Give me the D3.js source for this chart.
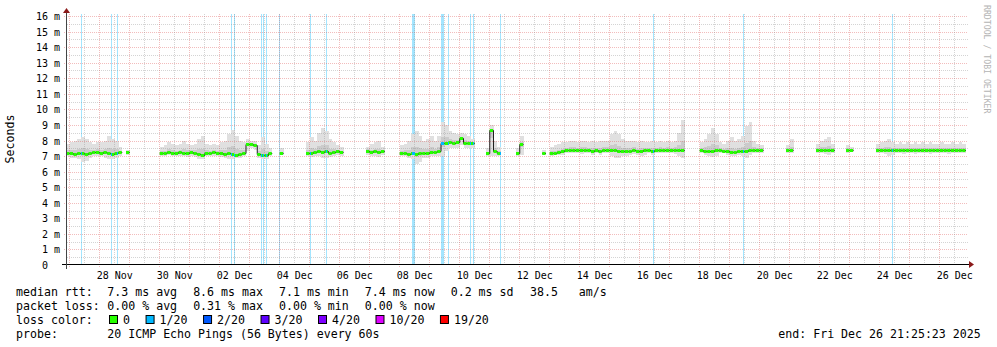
<!DOCTYPE html>
<html>
<head>
<meta charset="utf-8">
<script src="https://cdn.jsdelivr.net/npm/d3@7"></script>
<style>
  body { margin: 0; background: #ffffff; }
  svg { display: block; font-family: "DejaVu Sans Mono", monospace; }
  text { white-space: pre; }
</style>
</head>
<body>
<svg id="chart"></svg>
<script>
// time window of the graph (30 days), samples every 3 hours
const startTime = new Date(2025, 10, 26, 21, 25, 23);
const endTime = new Date(2025, 11, 26, 21, 25, 23);
const stepHours = 3;

// median rtt in ms, one row per day (8 samples)
const medianMs = [
  7.2, 7.2, 7.15, 7.2, 7.2, 7.15, 7.2, 7.25,
  7.25, 7.2, 7.25, 7.2, 7.15, 7.2, 7.25, null,
  7.25, null, null, null, null, null, null, null,
  null, 7.2, 7.2, 7.25, 7.2, 7.2, 7.25, 7.2,
  7.2, 7.25, 7.2, 7.15, 7.1, 7.2, 7.2, 7.25,
  7.2, 7.2, 7.15, 7.2, 7.15, 7.1, 7.15, 7.2,
  7.75, 7.75, 7.7, 7.15, 7.1, 7.1, 7.2, null,
  null, 7.2, null, null, null, null, null, null,
  7.2, 7.2, 7.25, 7.3, 7.25, 7.3, 7.2, 7.25,
  7.3, 7.25, null, null, null, null, null, null,
  7.35, 7.25, 7.3, 7.25, 7.3, null, null, null,
  null, 7.2, 7.2, 7.15, 7.2, 7.15, 7.2, 7.2,
  7.2, 7.25, 7.25, 7.3, 7.85, 7.85, 7.9, 7.85,
  7.9, 8.15, 7.85, 7.85, 7.85, null, null, null,
  7.2, 8.65, 7.35, 7.2, null, null, null, null,
  7.2, 7.75, null, null, null, null, null, 7.2,
  null, 7.2, 7.2, 7.25, 7.3, 7.4, 7.4, 7.4,
  7.4, 7.4, 7.4, 7.4, 7.35, 7.4, 7.3, 7.4,
  7.4, 7.4, 7.4, 7.35, 7.3, 7.3, 7.35, 7.4,
  7.3, 7.35, 7.4, 7.4, 7.3, 7.4, 7.4, 7.4,
  7.4, 7.4, 7.4, 7.4, 7.4, null, null, null,
  null, 7.4, 7.35, 7.3, 7.35, 7.4, 7.4, 7.35,
  7.3, 7.25, 7.25, 7.3, 7.3, 7.35, 7.4, 7.4,
  7.4, 7.4, null, null, null, null, null, null,
  7.4, 7.4, null, null, null, null, null, null,
  7.4, 7.4, 7.4, 7.4, 7.4, null, null, null,
  7.4, 7.4, null, null, null, null, null, null,
  7.4, 7.4, 7.4, 7.4, 7.4, 7.4, 7.4, 7.4,
  7.4, 7.4, 7.4, 7.4, 7.4, 7.4, 7.4, 7.4,
  7.4, 7.4, 7.4, 7.4, 7.4, 7.4, 7.4, 7.4
];

// smoke: lowest and highest ping of each sample, ms
const smokeLowMs = [
  7.0, 6.9, 6.9, 6.8, 6.6, 6.7, 6.9, 7.0,
  7.0, 7.0, 6.9, 6.8, 6.8, 6.9, 7.0, null,
  7.1, null, null, null, null, null, null, null,
  null, 7.0, 7.0, 7.05, 7.0, 7.0, 7.0, 7.0,
  6.95, 7.0, 6.95, 6.8, 6.8, 7.0, 7.0, 7.0,
  7.0, 6.95, 6.9, 6.8, 6.8, 6.85, 6.9, 7.0,
  7.3, 7.5, 7.4, 6.9, 6.8, 6.8, 7.0, null,
  null, 7.05, null, null, null, null, null, null,
  7.0, 6.95, 7.0, 7.0, 6.9, 6.9, 6.95, 7.0,
  7.05, 7.0, null, null, null, null, null, null,
  7.1, 7.0, 7.0, 6.95, 7.1, null, null, null,
  null, 7.0, 7.0, 6.9, 6.8, 6.5, 6.6, 6.85,
  6.9, 7.0, 7.0, 7.0, 7.0, 7.3, 7.5, 7.5,
  7.55, 7.7, 7.5, 7.5, 7.55, null, null, null,
  7.0, 7.0, 7.0, 7.0, null, null, null, null,
  7.0, 7.1, null, null, null, null, null, 7.1,
  null, 7.0, 7.05, 7.1, 7.1, 7.2, 7.2, 7.2,
  7.2, 7.15, 7.2, 7.2, 7.1, 7.2, 7.1, 7.2,
  7.2, 7.0, 6.9, 6.9, 7.0, 7.0, 7.1, 7.15,
  7.05, 7.0, 7.1, 7.2, 7.1, 7.2, 7.2, 7.2,
  7.2, 7.2, 7.15, 7.0, 6.9, null, null, null,
  null, 7.2, 7.1, 7.0, 6.95, 7.0, 7.2, 7.2,
  7.1, 7.0, 7.0, 7.1, 7.0, 6.9, 7.1, 7.2,
  7.2, 7.2, null, null, null, null, null, null,
  7.2, 7.2, null, null, null, null, null, null,
  7.2, 7.2, 7.15, 7.1, 7.2, null, null, null,
  7.2, 7.25, null, null, null, null, null, null,
  7.2, 7.2, 7.15, 7.0, 7.1, 7.2, 7.2, 7.15,
  7.2, 7.2, 7.15, 7.2, 7.2, 7.2, 7.15, 7.2,
  7.2, 7.2, 7.2, 7.15, 7.2, 7.2, 7.2, 7.2
];

const smokeHighMs = [
  7.8, 7.9, 8.0, 8.1, 8.2, 8.1, 7.9, 7.8,
  7.9, 7.9, 8.0, 8.3, 8.1, 8.0, 7.6, null,
  7.4, null, null, null, null, null, null, null,
  null, 7.6, 7.7, 7.9, 7.8, 7.7, 7.8, 8.0,
  7.8, 7.7, 7.8, 8.1, 8.3, 7.8, 7.7, 7.8,
  7.7, 7.9, 8.0, 8.4, 8.7, 8.3, 8.0, 7.9,
  8.1, 8.0, 8.0, 7.7, 8.2, 7.8, 7.5, null,
  null, 7.5, null, null, null, null, null, null,
  7.9, 8.2, 8.0, 8.5, 8.8, 8.6, 8.1, 7.9,
  7.7, 7.6, null, null, null, null, null, null,
  7.6, 7.8, 7.9, 8.0, 7.6, null, null, null,
  null, 7.7, 7.8, 8.0, 8.4, 8.6, 8.3, 8.0,
  8.1, 8.3, 8.0, 8.3, 9.2, 9.0, 8.6, 8.5,
  8.4, 8.5, 8.4, 8.3, 8.1, null, null, null,
  7.5, 9.0, 8.0, 7.6, null, null, null, null,
  7.5, 8.3, null, null, null, null, null, 7.4,
  null, 7.6, 7.7, 7.8, 7.9, 7.9, 8.0, 8.0,
  7.9, 8.0, 8.0, 7.9, 8.0, 7.9, 8.0, 8.0,
  8.0, 8.4, 8.6, 8.4, 8.1, 8.0, 8.0, 8.0,
  7.9, 8.0, 7.9, 7.9, 8.0, 7.9, 8.0, 7.9,
  8.0, 7.9, 8.0, 8.5, 9.3, null, null, null,
  null, 7.9, 8.1, 8.4, 8.8, 8.4, 7.9, 7.8,
  8.0, 8.2, 8.0, 8.1, 8.3, 8.9, 9.2, 8.0,
  7.8, 7.7, null, null, null, null, null, null,
  7.7, 8.1, null, null, null, null, null, null,
  7.8, 8.0, 8.1, 8.2, 7.8, null, null, null,
  7.7, 7.6, null, null, null, null, null, null,
  7.8, 7.9, 8.0, 8.1, 7.9, 7.8, 7.9, 7.8,
  7.9, 7.8, 7.9, 7.8, 7.9, 7.8, 7.9, 7.8,
  7.8, 7.9, 7.8, 7.8, 7.9, 7.8, 7.9, 7.8
];

// minutes with 1/20 loss, as hours after startTime
const lossHours = [12, 36, 40.8, 132, 135.2, 156, 157.6, 160, 170.4, 195.2, 208,
  276.8, 277.6, 278.4, 300, 300.8, 301.6, 305.6, 323.2, 325.6, 347.2, 469.6, 541.6, 660.8];

// x axis labels (centred on noon of each day)
const dayLabels = ["2025-11-28", "2025-11-30", "2025-12-02", "2025-12-04", "2025-12-06",
  "2025-12-08", "2025-12-10", "2025-12-12", "2025-12-14", "2025-12-16", "2025-12-18",
  "2025-12-20", "2025-12-22", "2025-12-24", "2025-12-26"];

// legend
const rttValues = [7.3, 8.6, 7.1, 7.4, 0.2];
const rttNames = ["avg", "max", "min", "now", "sd"];
const rttPerStd = "38.5";
const lossValues = [0.00, 0.31, 0.00, 0.00];
const lossNames = ["avg", "max", "min", "now"];
const lossColorLabels = ["0", "1/20", "2/20", "3/20", "4/20", "10/20", "19/20"];
const lossColors = ["#26ff00", "#00b8ff", "#0059ff", "#5e00ff", "#7e00ff", "#dd00ff", "#ff0000"];
const probeText = "20 ICMP Echo Pings (56 Bytes) every 60s";
const endText = "end: Fri Dec 26 21:25:23 2025";

class SmokeChart {
    constructor(_config) {
        this.config = {
            parentElement: _config.parentElement,
            containerWidth: _config.containerWidth || 997,
            containerHeight: _config.containerHeight || 347,
            plot: {left: 66, right: 966, top: 16, bottom: 265},
            gridColor: "rgba(143,143,143,0.38)",
            mgridColor: "rgba(222,80,80,0.38)",
            arrowColor: "#8b1a1a"
        };
        this.initVis();
    }

    initVis() {
        let vis = this;

        vis.svg = d3.select(vis.config.parentElement)
            .attr('width', vis.config.containerWidth)
            .attr('height', vis.config.containerHeight);

        vis.svg.append('rect')
            .attr('width', vis.config.containerWidth)
            .attr('height', vis.config.containerHeight)
            .attr('fill', '#ffffff');

        vis.xScale = d3.scaleTime()
            .domain([startTime, endTime])
            .range([vis.config.plot.left, vis.config.plot.right]);

        vis.yScale = d3.scaleLinear()
            .domain([0, 16])
            .range([vis.config.plot.bottom, vis.config.plot.top]);

        // build sample objects
        vis.samples = medianMs.map((m, i) => ({
            t0: d3.timeHour.offset(startTime, i * stepHours),
            t1: d3.timeHour.offset(startTime, (i + 1) * stepHours),
            med: m,
            lo: smokeLowMs[i],
            hi: smokeHighMs[i]
        }));

        vis.renderVis();
    }

    renderVis() {
        let vis = this;
        let p = vis.config.plot;
        let px = v => Math.round(v) + 0.5;

        // loss background bars
        vis.svg.append('g').selectAll('rect')
            .data(lossHours)
            .join('rect')
                .attr('x', h => Math.floor(vis.xScale(new Date(+startTime + h * 3600000))))
                .attr('y', p.top - 2)
                .attr('width', 1)
                .attr('height', p.bottom - p.top + 1)
                .attr('fill', '#00b8ff')
                .attr('opacity', 0.36);

        // smoke
        let valid = vis.samples.filter(d => d.med != null);
        vis.svg.append('g').attr('shape-rendering', 'crispEdges').selectAll('rect')
            .data(valid)
            .join('rect')
                .attr('x', d => vis.xScale(d.t0))
                .attr('width', d => vis.xScale(d.t1) - vis.xScale(d.t0))
                .attr('y', d => vis.yScale(d.hi))
                .attr('height', d => vis.yScale(d.lo) - vis.yScale(d.hi))
                .attr('fill', '#e0e0e0');

        vis.svg.append('g').attr('shape-rendering', 'crispEdges').selectAll('rect')
            .data(valid)
            .join('rect')
                .attr('x', d => vis.xScale(d.t0))
                .attr('width', d => vis.xScale(d.t1) - vis.xScale(d.t0))
                .attr('y', d => vis.yScale(d.med + (d.hi - d.med) * 0.3))
                .attr('height', d => vis.yScale(d.med - (d.med - d.lo) * 0.3) - vis.yScale(d.med + (d.hi - d.med) * 0.3))
                .attr('fill', '#cbcbcb');

        // grid
        let grid = vis.svg.append('g')
            .attr('shape-rendering', 'crispEdges')
            .attr('stroke-dasharray', '1,1');

        let minorY = vis.yScale.ticks(32).filter(v => v % 1 !== 0);
        let majorY = vis.yScale.ticks(16);
        grid.selectAll('.gy')
            .data(minorY)
            .join('line')
                .attr('class', 'gy')
                .attr('x1', p.left + 1).attr('x2', p.right + 2)
                .attr('y1', d => px(vis.yScale(d))).attr('y2', d => px(vis.yScale(d)))
                .attr('stroke', vis.config.gridColor);
        grid.selectAll('.my')
            .data(majorY.filter(v => v > 0))
            .join('line')
                .attr('class', 'my')
                .attr('x1', p.left - 2).attr('x2', p.right + 2)
                .attr('y1', d => px(vis.yScale(d))).attr('y2', d => px(vis.yScale(d)))
                .attr('stroke', vis.config.mgridColor);

        let noons = d3.timeHour.every(12).range(startTime, endTime).filter(d => d.getHours() === 12);
        let midnights = d3.timeDay.range(startTime, endTime);
        grid.selectAll('.gx')
            .data(noons)
            .join('line')
                .attr('class', 'gx')
                .attr('x1', d => px(vis.xScale(d))).attr('x2', d => px(vis.xScale(d)))
                .attr('y1', p.top - 2).attr('y2', p.bottom)
                .attr('stroke', vis.config.gridColor);
        grid.selectAll('.mx')
            .data(midnights)
            .join('line')
                .attr('class', 'mx')
                .attr('x1', d => px(vis.xScale(d))).attr('x2', d => px(vis.xScale(d)))
                .attr('y1', p.top - 2).attr('y2', p.bottom + 3)
                .attr('stroke', vis.config.mgridColor);

        // median: thin dark step line, then loss-coloured segments
        let pts = [];
        vis.samples.forEach(d => {
            if (d.med == null) { pts.push({v: null}); return; }
            pts.push({t: d.t0, v: d.med});
            pts.push({t: d.t1, v: d.med});
        });
        let line = d3.line()
            .defined(d => d.v != null)
            .x(d => vis.xScale(d.t))
            .y(d => px(vis.yScale(d.v)));
        vis.svg.append('path')
            .attr('d', line(pts))
            .attr('fill', 'none')
            .attr('stroke', '#202020')
            .attr('stroke-width', 1);

        vis.svg.append('g').selectAll('line')
            .data(valid)
            .join('line')
                .attr('x1', d => vis.xScale(d.t0))
                .attr('x2', d => vis.xScale(d.t1) - 0.5)
                .attr('y1', d => px(vis.yScale(d.med)))
                .attr('y2', d => px(vis.yScale(d.med)))
                .attr('stroke', lossColors[0])
                .attr('stroke-width', 3);

        // loss marks on the median
        let lossMarks = lossHours.map(h => {
            let i = Math.floor(h / stepHours);
            return {t: new Date(+startTime + h * 3600000), v: medianMs[i]};
        }).filter(d => d.v != null);
        vis.svg.append('g').selectAll('rect')
            .data(lossMarks)
            .join('rect')
                .attr('x', d => Math.floor(vis.xScale(d.t)))
                .attr('y', d => px(vis.yScale(d.v)) - 1.5)
                .attr('width', 1)
                .attr('height', 3)
                .attr('fill', lossColors[1]);

        // axes
        vis.svg.append('line')
            .attr('x1', p.left - 4).attr('x2', p.right + 3)
            .attr('y1', p.bottom - 0.5).attr('y2', p.bottom - 0.5)
            .attr('stroke', '#000').attr('shape-rendering', 'crispEdges');
        vis.svg.append('line')
            .attr('x1', p.left + 0.5).attr('x2', p.left + 0.5)
            .attr('y1', p.bottom + 4).attr('y2', p.top - 4)
            .attr('stroke', '#444').attr('shape-rendering', 'crispEdges');
        vis.svg.append('path')
            .attr('d', `M${p.left - 3},${p.top - 3} L${p.left + 4},${p.top - 3} L${p.left + 0.5},${p.top - 8} Z`)
            .attr('fill', vis.config.arrowColor);
        vis.svg.append('path')
            .attr('d', `M${p.right + 3},${p.bottom - 4} L${p.right + 3},${p.bottom + 3} L${p.right + 8},${p.bottom - 0.5} Z`)
            .attr('fill', vis.config.arrowColor);

        // y tick labels
        vis.svg.append('g').selectAll('text')
            .data(majorY)
            .join('text')
                .attr('x', d => d === 0 ? 48 : 60)
                .attr('y', d => px(vis.yScale(d)) + 3.5)
                .attr('text-anchor', 'end')
                .attr('font-size', 10)
                .attr('fill', '#000')
                .text(d => d === 0 ? "0" : d + " m");

        // x tick labels
        let parse = d3.timeParse("%Y-%m-%d");
        let fmt = d3.timeFormat("%d %b");
        vis.svg.append('g').selectAll('text')
            .data(dayLabels.map(parse))
            .join('text')
                .attr('x', d => vis.xScale(d3.timeHour.offset(d, 12)) + 0.5)
                .attr('y', 279)
                .attr('text-anchor', 'middle')
                .attr('font-size', 10)
                .attr('fill', '#000')
                .text(d => fmt(d));

        // axis title and watermark
        vis.svg.append('text')
            .attr('transform', 'translate(14,139) rotate(-90)')
            .attr('text-anchor', 'middle')
            .attr('font-size', 11.6)
            .text("Seconds");
        vis.svg.append('text')
            .attr('transform', 'translate(983.5,5) rotate(90)')
            .attr('font-size', 8.2)
            .attr('fill', '#b4b4b4')
            .text("RRDTOOL / TOBI OETIKER");

        // legend
        let fs = 11.6, cw = 6.97;
        let legend = vis.svg.append('g').attr('font-size', fs).attr('fill', '#000');
        let col = k => 107.3 + k * 85.85;
        let rows = [295.5, 309.5, 323.5, 337.5];

        legend.append('text').attr('x', 16).attr('y', rows[0]).text("median rtt:");
        rttValues.forEach((v, k) => {
            legend.append('text').attr('x', col(k)).attr('y', rows[0])
                .text(`${v.toFixed(1)} ms ${rttNames[k]}`);
        });
        legend.append('text').attr('x', 530).attr('y', rows[0]).text(`${rttPerStd}   am/s`);

        legend.append('text').attr('x', 16).attr('y', rows[1]).text("packet loss:");
        lossValues.forEach((v, k) => {
            legend.append('text').attr('x', col(k)).attr('y', rows[1])
                .text(`${v.toFixed(2)} % ${lossNames[k]}`);
        });

        legend.append('text').attr('x', 16).attr('y', rows[2]).text("loss color:");
        let sx = 109;
        lossColorLabels.forEach((lab, k) => {
            legend.append('rect')
                .attr('x', sx + 0.5).attr('y', rows[2] - 8)
                .attr('width', 8).attr('height', 8)
                .attr('fill', lossColors[k])
                .attr('stroke', '#000').attr('stroke-width', 1);
            legend.append('text').attr('x', sx + 14).attr('y', rows[2]).text(lab);
            sx = sx + 14 + lab.length * cw + 15.6;
        });

        legend.append('text').attr('x', 16).attr('y', rows[3]).text("probe:");
        legend.append('text').attr('x', col(0)).attr('y', rows[3]).text(probeText);
        legend.append('text').attr('x', 778.3).attr('y', rows[3]).text(endText);
    }
}

let smokeChart = new SmokeChart({parentElement: '#chart'});
</script>
</body>
</html>
